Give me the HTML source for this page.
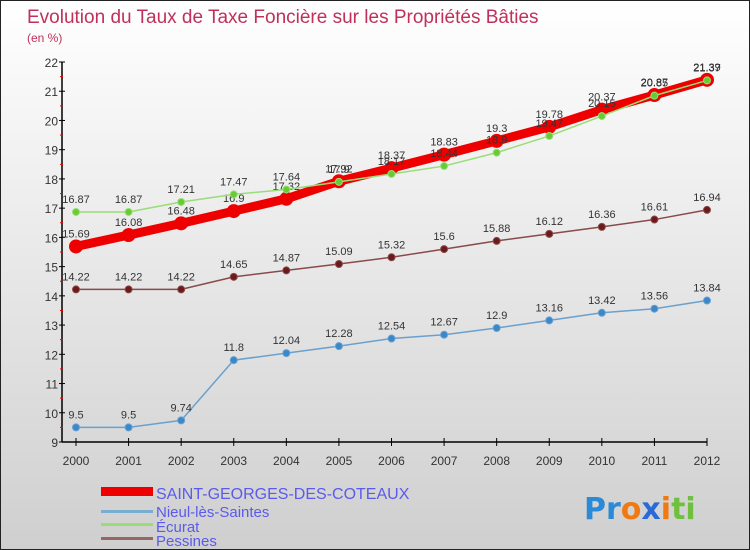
<!DOCTYPE html>
<html><head><meta charset="utf-8"><style>
body{margin:0}
#wrap{width:750px;height:550px;position:relative;box-sizing:border-box;border:1px solid #222;background:linear-gradient(#ffffff,#cfcfcf);font-family:"Liberation Sans",sans-serif;overflow:hidden}
</style></head><body>
<div id="wrap">
<svg id="chart" width="750" height="550" style="position:absolute;left:0;top:0">
<text x="26" y="22" font-size="19" fill="#c0305a">Evolution du Taux de Taxe Foncière sur les Propriétés Bâties</text>
<text x="26" y="41" font-size="12" fill="#c0305a">(en %)</text>
<g id="axes"></g><g id="series"></g>
<g>
<rect x="100" y="486" width="52" height="9" fill="#ee0000"/>
<text x="155" y="498" font-size="16" fill="#5a5aee">SAINT-GEORGES-DES-COTEAUX</text>
<rect x="100" y="509" width="52" height="3" fill="#7aaed0"/>
<text x="155" y="516" font-size="15" fill="#5a5aee">Nieul-lès-Saintes</text>
<rect x="100" y="522" width="52" height="3" fill="#99dd77"/>
<text x="155" y="531" font-size="15" fill="#5a5aee">Écurat</text>
<rect x="100" y="536" width="52" height="3" fill="#996666"/>
<text x="155" y="545" font-size="15" fill="#5a5aee">Pessines</text>
</g>
<g font-size="30" font-weight="bold" font-family="'DejaVu Sans',sans-serif">
<text x="583" y="518"><tspan fill="#2a8ad8">Pr</tspan><tspan fill="#f07a10">o</tspan><tspan fill="#2a6ad8">x</tspan><tspan fill="#f07a10">i</tspan><tspan fill="#70c040">ti</tspan></text>
</g>
</svg>
</div>
<script>
const years=["2000","2001","2002","2003","2004","2005","2006","2007","2008","2009","2010","2011","2012"];
const yTicks=[9,10,11,12,13,14,15,16,17,18,19,20,21,22];
const saint=[15.69,16.08,16.48,16.9,17.32,17.92,18.37,18.83,19.3,19.78,20.37,20.87,21.39];
const nieul=[9.5,9.5,9.74,11.8,12.04,12.28,12.54,12.67,12.9,13.16,13.42,13.56,13.84];
const ecurat=[16.87,16.87,17.21,17.47,17.64,17.9,18.17,18.44,18.9,19.47,20.15,20.85,21.37];
const pessines=[14.22,14.22,14.22,14.65,14.87,15.09,15.32,15.6,15.88,16.12,16.36,16.61,16.94];
const NS="http://www.w3.org/2000/svg";
function xs(i){return 75+i*(706-75)/(years.length-1);}
function ys(v){return 441-(v-9)*(441-61)/13;}
function mk(tag,attrs,parent){const e=document.createElementNS(NS,tag);for(const k in attrs)e.setAttribute(k,attrs[k]);parent.appendChild(e);return e;}
const ax=document.getElementById('axes');
let yl=mk('line',{x1:61,y1:61,x2:61,y2:441,stroke:'#000','stroke-width':1.5},ax);


let xl=mk('line',{x1:61,y1:441,x2:706,y2:441,stroke:'#000','stroke-width':1.5},ax);


yTicks.forEach(v=>{
 mk('line',{x1:58,x2:64,y1:ys(v),y2:ys(v),stroke:'#000'},ax);
 if(v<22)mk('line',{x1:59,x2:62,y1:ys(v+0.5),y2:ys(v+0.5),stroke:'#e00'},ax);
 const t=mk('text',{x:57,y:ys(v)+5,'text-anchor':'end','font-size':12,fill:'#333'},ax);t.textContent=v;
 
 
});
years.forEach((y,i)=>{
 mk('line',{x1:xs(i),x2:xs(i),y1:437,y2:445,stroke:'#000'},ax);
 const t=mk('text',{x:xs(i),y:464,'text-anchor':'middle','font-size':12,fill:'#333'},ax);t.textContent=y;
 
 
});
const sg=document.getElementById('series');
function draw(name,data,color,dot,w,r){
 const g=mk('g',{},sg);
 
 
 mk('polyline',{points:data.map((v,i)=>xs(i)+','+ys(v)).join(' '),fill:'none',stroke:color,'stroke-width':w,'stroke-linejoin':'round'},g);
 data.forEach((v,i)=>{
  const c=mk('circle',{cx:xs(i),cy:ys(v),r:r,fill:dot,stroke:color,'stroke-width':1},g);
  
  
  const t=mk('text',{x:xs(i),y:ys(v)-9,'text-anchor':'middle','font-size':11,fill:'#333'},g);t.textContent=v;
 });
}
draw('pessines',pessines,'#8a4a4a','#6a1a1a',1.5,3.5);
draw('nieul',nieul,'#6aa0d0','#3a88c8',1.5,3.5);
draw('saint-georges',saint,'#ee0000','#ee0000',9,6.5);
draw('ecurat',ecurat,'#99dd77','#66cc33',1.5,3.5);
</script>
</body></html>
